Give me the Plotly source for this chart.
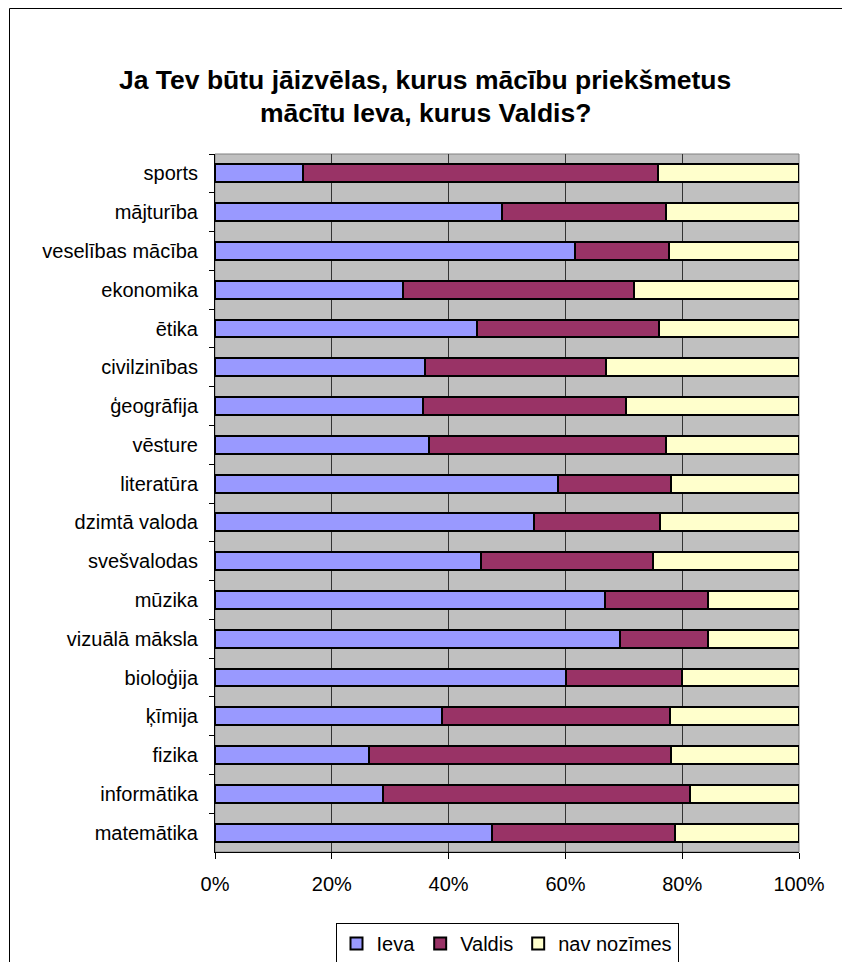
import plotly.graph_objects as go

categories = ["sports", "mājturība", "veselības mācība", "ekonomika", "ētika",
              "civilzinības", "ģeogrāfija", "vēsture", "literatūra", "dzimtā valoda",
              "svešvalodas", "mūzika", "vizuālā māksla", "bioloģija", "ķīmija",
              "fizika", "informātika", "matemātika"]
ieva =   [15.0, 49.1, 61.7, 32.2, 44.9, 36.0, 35.6, 36.6, 58.8, 54.6, 45.6, 66.8, 69.3, 60.1, 38.9, 26.4, 28.8, 47.4]
valdis = [60.8, 28.1, 16.0, 39.6, 31.1, 31.0, 34.7, 40.7, 19.2, 21.6, 29.4, 17.6, 15.1, 19.8, 39.0, 51.6, 52.5, 31.4]
nav =    [24.2, 22.8, 22.3, 28.2, 24.0, 33.0, 29.7, 22.7, 22.0, 23.8, 25.0, 15.6, 15.6, 20.1, 22.1, 22.0, 18.7, 21.2]
series_names = ["Ieva", "Valdis", "nav nozīmes"]
colors = ["#9999FF", "#993366", "#FFFFCC"]
x_ticks = [0, 20, 40, 60, 80, 100]
x_tick_labels = ["0%", "20%", "40%", "60%", "80%", "100%"]
title_lines = ["Ja Tev būtu jāizvēlas, kurus mācību priekšmetus", "mācītu Ieva, kurus Valdis?"]

OFF = 8  # browser body margin
W, H = 842, 954
L = 215 - OFF
R = W - (799 - OFF)
T = 154 - OFF
B = H - (852 - OFF)
pw, ph = W - L - R, H - T - B

def px_x(px):
    return (px - OFF - L) / pw

def px_y(py):
    return (H - B - (py - OFF)) / ph

fig = go.Figure()
for name, vals, col in zip(series_names, [ieva, valdis, nav], colors):
    fig.add_trace(go.Bar(
        y=categories, x=vals, name=name, orientation="h",
        marker=dict(color=col, line=dict(color="black", width=2)),
        width=0.46,
    ))

font = "Liberation Sans, Arial, sans-serif"
fig.update_layout(
    width=W, height=H,
    margin=dict(l=L, r=R, t=T, b=B, autoexpand=False),
    barmode="stack",
    paper_bgcolor="white",
    plot_bgcolor="#C0C0C0",
    font=dict(family=font, size=20, color="black"),
    showlegend=True,
    legend=dict(
        orientation="h", x=0.5, xanchor="center", y=px_y(923), yanchor="top",
        bordercolor="black", borderwidth=1, font=dict(size=20, family=font),
        traceorder="normal", itemwidth=30, tracegroupgap=0,
    ),
    xaxis=dict(
        range=[0, 100], tickvals=x_ticks, ticktext=x_tick_labels,
        showgrid=True, gridcolor="#333333", gridwidth=1,
        showline=True, linecolor="black", linewidth=1,
        ticks="outside", ticklen=6, tickcolor="black",
        tickfont=dict(size=20), zeroline=False, fixedrange=True,
        ticklabelstandoff=8,
    ),
    yaxis=dict(
        categoryorder="array", categoryarray=categories, autorange="reversed",
        showgrid=False, showline=True, linecolor="black", linewidth=1,
        ticks="outside", ticklen=5, tickcolor="black", tickson="boundaries",
        tickfont=dict(size=20), ticklabelstandoff=12, fixedrange=True,
    ),
    shapes=[
        dict(type="rect", xref="paper", yref="paper", x0=0, x1=1, y0=0, y1=1,
             line=dict(color="#808080", width=1), layer="below"),
        dict(type="rect", xref="paper", yref="paper",
             x0=px_x(9.5), x1=px_x(860), y0=px_y(970), y1=px_y(8.5),
             line=dict(color="black", width=1)),
    ],
    annotations=[
        dict(text="<b>%s</b>" % title_lines[0], xref="paper", yref="paper",
             x=px_x(425), y=px_y(80), xanchor="center", yanchor="middle",
             showarrow=False, font=dict(size=26.5, family=font)),
        dict(text="<b>%s</b>" % title_lines[1], xref="paper", yref="paper",
             x=px_x(425), y=px_y(113), xanchor="center", yanchor="middle",
             showarrow=False, font=dict(size=26.5, family=font)),
    ],
)

fig.write_html("out.html")
